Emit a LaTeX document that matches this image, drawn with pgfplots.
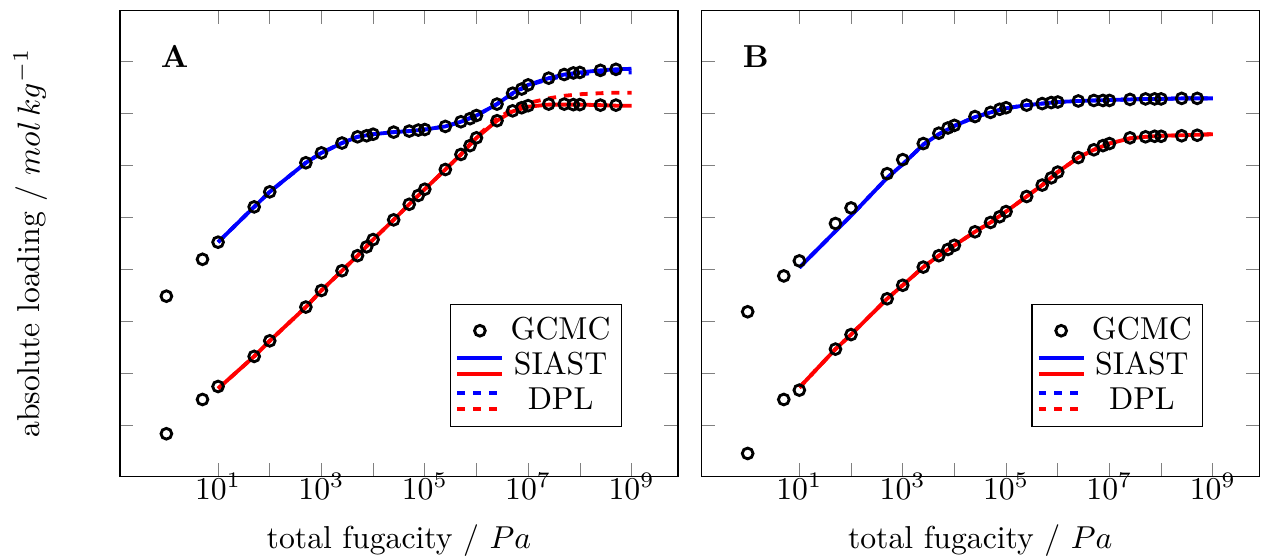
\documentclass[border=0pt]{standalone}
\usepackage{pgfplots}
\usepackage{pgfplotstable}
\pgfplotsset{compat=1.18}

% GCMC points: pressure, component 1 (blue), component 2 (red)
\pgfplotstableread{
p blue red
1 2.48 -0.17
5 3.19 0.49
10 3.52 0.74
50 4.20 1.32
100 4.49 1.62
500 5.05 2.27
1000 5.24 2.59
2500 5.43 2.97
5000 5.55 3.26
7500 5.57 3.43
10000 5.60 3.57
25000 5.64 3.95
50000 5.66 4.25
75000 5.68 4.42
100000 5.69 4.54
250000 5.75 4.92
500000 5.84 5.21
750000 5.90 5.38
1000000 5.96 5.53
2500000 6.18 5.86
5000000 6.39 6.05
7500000 6.47 6.11
10000000 6.55 6.15
25000000 6.68 6.18
50000000 6.75 6.18
75000000 6.78 6.17
100000000 6.79 6.17
250000000 6.83 6.16
500000000 6.85 6.16
}\gcmcA

% model curves: SIAST (sb, sr) and DPL (db, dr)
\pgfplotstableread{
p sb sr db dr
10 3.52 0.70 3.52 0.70
50 4.20 1.32 4.20 1.32
100 4.49 1.62 4.49 1.62
500 5.05 2.27 5.05 2.27
1000 5.24 2.59 5.24 2.59
2500 5.43 2.97 5.43 2.97
5000 5.55 3.26 5.55 3.26
10000 5.60 3.57 5.60 3.57
25000 5.64 3.95 5.64 3.95
50000 5.66 4.25 5.66 4.25
100000 5.69 4.54 5.69 4.54
250000 5.75 4.92 5.75 4.92
500000 5.84 5.21 5.84 5.21
1000000 5.96 5.53 5.96 5.55
2500000 6.18 5.86 6.18 5.90
5000000 6.39 6.04 6.38 6.08
10000000 6.55 6.13 6.54 6.20
25000000 6.68 6.17 6.66 6.29
50000000 6.75 6.17 6.72 6.34
100000000 6.79 6.17 6.76 6.37
250000000 6.83 6.16 6.78 6.39
500000000 6.85 6.15 6.79 6.40
1000000000 6.86 6.15 6.79 6.40
}\modelA

\pgfplotstableread{
p blue red
1 2.18 -0.55
5 2.87 0.49
10 3.16 0.67
50 3.88 1.46
100 4.18 1.74
500 4.84 2.43
1000 5.11 2.69
2500 5.42 3.04
5000 5.62 3.26
7500 5.72 3.38
10000 5.77 3.46
25000 5.94 3.72
50000 6.02 3.90
75000 6.08 4.01
100000 6.11 4.11
250000 6.16 4.40
500000 6.19 4.62
750000 6.21 4.76
1000000 6.22 4.87
2500000 6.24 5.15
5000000 6.25 5.30
7500000 6.25 5.38
10000000 6.25 5.42
25000000 6.27 5.53
50000000 6.28 5.55
75000000 6.28 5.56
100000000 6.28 5.56
250000000 6.29 5.57
500000000 6.29 5.58
}\gcmcB

\pgfplotstableread{
p sb sr db dr
10 3.03 0.72 3.03 0.72
50 3.73 1.46 3.73 1.46
100 4.03 1.74 4.03 1.74
500 4.76 2.43 4.76 2.43
1000 5.02 2.69 5.02 2.69
2500 5.40 3.04 5.40 3.04
5000 5.60 3.26 5.60 3.26
10000 5.76 3.46 5.76 3.46
25000 5.93 3.72 5.93 3.72
50000 6.02 3.90 6.02 3.90
100000 6.10 4.11 6.10 4.11
250000 6.16 4.40 6.16 4.40
500000 6.19 4.62 6.19 4.62
1000000 6.22 4.87 6.22 4.87
2500000 6.24 5.15 6.24 5.15
5000000 6.25 5.30 6.25 5.30
10000000 6.26 5.42 6.26 5.42
25000000 6.27 5.52 6.27 5.52
50000000 6.28 5.55 6.28 5.55
100000000 6.28 5.57 6.28 5.57
250000000 6.29 5.58 6.29 5.58
500000000 6.29 5.59 6.29 5.59
1000000000 6.29 5.60 6.29 5.60
}\modelB

\pgfplotsset{
  fugpanel/.style={
    scale only axis,
    width=176pt, height=147pt,
    xmin=0.1259, xmax=7.943e9,
    ymin=-0.99, ymax=7.99,
    xtick={1e1,1e2,1e3,1e4,1e5,1e6,1e7,1e8,1e9},
    xticklabels={$10^{1}$,,$10^{3}$,,$10^{5}$,,$10^{7}$,,$10^{9}$},
    xticklabel style={yshift=4.5pt},
    xminorticks=false,
    ytick={0,1,2,3,4,5,6,7},
    yticklabels={},
    tick style={gray},
    xlabel={total fugacity / $Pa$},
    xlabel style={yshift=-1.2pt},
    legend style={at={(0.9,0.105)}, anchor=south east, draw=black,
      inner xsep=1.5pt, inner ysep=2pt, row sep=-1.5pt},
    legend cell align=center,
  },
  gcmc/.style={only marks, mark=o, black, mark size=1.7pt, line width=0.9pt, forget plot},
  siast/.style={very thick, forget plot},
  dpl/.style={very thick, dash pattern=on 2.5pt off 2.5pt, forget plot},
}

\newcommand{\legendimages}{%
  \addlegendimage{legend image code/.code={\draw[black,line width=0.9pt] (0.25cm,0cm) circle (1.7pt);}}
  \addlegendimage{legend image code/.code={%
    \draw[blue,very thick] (0cm,2.5pt) -- (0.5cm,2.5pt);
    \draw[red,very thick] (0cm,-2.5pt) -- (0.5cm,-2.5pt);}}
  \addlegendimage{legend image code/.code={%
    \draw[blue,very thick,dash pattern=on 2.4pt off 2.6pt] (0cm,2.5pt) -- (0.5cm,2.5pt);
    \draw[red,very thick,dash pattern=on 2.4pt off 2.6pt] (0cm,-2.5pt) -- (0.5cm,-2.5pt);}}
  \legend{GCMC,SIAST,DPL}
}

\begin{document}
\begin{tikzpicture}
\useasboundingbox (-37.8pt,-25.9pt) rectangle (361.1pt,150.2pt);

\begin{semilogxaxis}[fugpanel,
    ylabel={absolute loading / $mol\,kg^{-1}$},
    ylabel style={at={(axis description cs:-0.16,0.5)}, anchor=center}]
\legendimages
\addplot[dpl, blue] table[x=p, y=db] {\modelA};
\addplot[dpl, red] table[x=p, y=dr] {\modelA};
\addplot[siast, blue] table[x=p, y=sb] {\modelA};
\addplot[siast, red] table[x=p, y=sr] {\modelA};
\addplot[gcmc] table[x=p, y=blue] {\gcmcA};
\addplot[gcmc] table[x=p, y=red] {\gcmcA};
\node[font=\bfseries] at (axis description cs:0.098,0.9) {A};
\end{semilogxaxis}

\begin{semilogxaxis}[fugpanel, at={(183.3pt,0pt)}]
\legendimages
\addplot[dpl, blue] table[x=p, y=db] {\modelB};
\addplot[dpl, red] table[x=p, y=dr] {\modelB};
\addplot[siast, blue] table[x=p, y=sb] {\modelB};
\addplot[siast, red] table[x=p, y=sr] {\modelB};
\addplot[gcmc] table[x=p, y=blue] {\gcmcB};
\addplot[gcmc] table[x=p, y=red] {\gcmcB};
\node[font=\bfseries] at (axis description cs:0.098,0.9) {B};
\end{semilogxaxis}
\end{tikzpicture}
\end{document}
